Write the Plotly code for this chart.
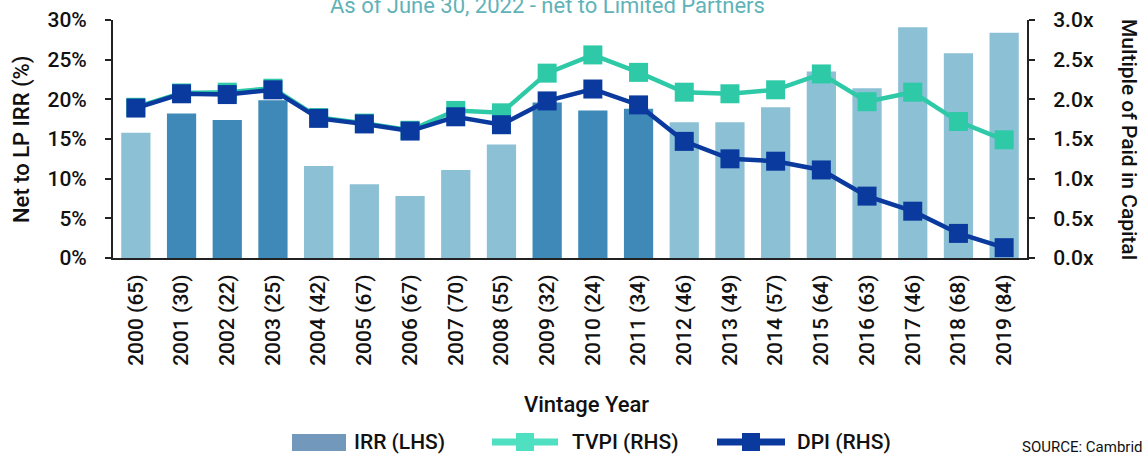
import plotly.graph_objects as go

categories = ["2000 (65)", "2001 (30)", "2002 (22)", "2003 (25)", "2004 (42)", "2005 (67)",
              "2006 (67)", "2007 (70)", "2008 (55)", "2009 (32)", "2010 (24)", "2011 (34)",
              "2012 (46)", "2013 (49)", "2014 (57)", "2015 (64)", "2016 (63)", "2017 (46)",
              "2018 (68)", "2019 (84)"]
irr = [15.8, 18.2, 17.4, 19.9, 11.6, 9.3, 7.8, 11.1, 14.3, 19.6, 18.6, 18.8,
       17.1, 17.1, 19.0, 23.5, 21.4, 29.1, 25.8, 28.4]
tvpi = [1.90, 2.08, 2.09, 2.14, 1.77, 1.70, 1.61, 1.86, 1.83, 2.33, 2.56, 2.34,
        2.09, 2.07, 2.12, 2.32, 1.97, 2.09, 1.72, 1.49]
dpi = [1.89, 2.07, 2.06, 2.12, 1.76, 1.69, 1.60, 1.78, 1.68, 1.98, 2.13, 1.93,
       1.47, 1.25, 1.22, 1.11, 0.78, 0.59, 0.31, 0.13]
highlight = [False, True, True, True, False, False, False, False, False, True, True, True,
             False, False, False, False, False, False, False, False]
left_ticks = [0, 5, 10, 15, 20, 25, 30]
left_ticktext = ["0%", "5%", "10%", "15%", "20%", "25%", "30%"]
right_ticks = [0, 0.5, 1.0, 1.5, 2.0, 2.5, 3.0]
right_ticktext = ["0.0x", "0.5x", "1.0x", "1.5x", "2.0x", "2.5x", "3.0x"]

DARK = "#3e89b8"
LIGHT = "#8cc0d5"
TEAL = "#2ec9a7"
NAVY = "#0b3a9f"
FONT = "Roboto"
WEIGHT = 500

W, H = 1143, 456
L, R, T, B = 113, 116, 20, 198
pw, ph = W - L - R, H - T - B

def px(x):
    return (x - L) / pw

def py(y):
    return (H - B - y) / ph

bar_colors = [DARK if h else LIGHT for h in highlight]

fig = go.Figure()
fig.add_trace(go.Bar(x=categories, y=irr, marker=dict(color=bar_colors, line=dict(width=0)),
                     name="IRR (LHS)", showlegend=False, yaxis="y"))
fig.add_trace(go.Scatter(x=categories, y=tvpi, mode="lines+markers", name="TVPI (RHS)",
                         line=dict(color=TEAL, width=4.5),
                         marker=dict(symbol="square", size=19, color=TEAL),
                         showlegend=False, yaxis="y2"))
fig.add_trace(go.Scatter(x=categories, y=dpi, mode="lines+markers", name="DPI (RHS)",
                         line=dict(color=NAVY, width=4.5),
                         marker=dict(symbol="square", size=19, color=NAVY),
                         showlegend=False, yaxis="y2"))

tickfont = dict(family=FONT, size=21, color="#111111", weight=WEIGHT)

fig.update_layout(
    width=W, height=H,
    margin=dict(l=L, r=R, t=T, b=B, autoexpand=False),
    paper_bgcolor="white", plot_bgcolor="white",
    bargap=0.36,
    showlegend=False,
    xaxis=dict(type="category", range=[-0.5, 19.5], tickangle=-90,
               tickfont=tickfont, showline=True, linecolor="#222222", linewidth=2,
               ticks="", showgrid=False, zeroline=False, ticklabelstandoff=6),
    yaxis=dict(range=[0, 30], tickvals=left_ticks, ticktext=left_ticktext,
               tickfont=tickfont, showline=True, linecolor="#222222", linewidth=2,
               ticks="outside", ticklen=6, tickwidth=2, tickcolor="#222222",
               showgrid=False, zeroline=False, ticklabelstandoff=14),
    yaxis2=dict(range=[0, 3.0], tickvals=right_ticks, ticktext=right_ticktext,
                overlaying="y", side="right",
                tickfont=tickfont, showline=True, linecolor="#222222", linewidth=2,
                ticks="outside", ticklen=6, tickwidth=2, tickcolor="#222222",
                showgrid=False, zeroline=False, ticklabelstandoff=14),
)

ann = []
# title (cut off at top)
ann.append(dict(text="As of June 30, 2022 - net to Limited Partners", x=px(547), y=py(6),
                xref="paper", yref="paper", xanchor="center", yanchor="middle",
                showarrow=False, font=dict(family=FONT, size=22, color="#5fb3b8")))
# axis titles
ann.append(dict(text="Net to LP IRR (%)", x=px(22), y=py(139), xref="paper", yref="paper",
                xanchor="center", yanchor="middle", textangle=-90, showarrow=False,
                font=dict(family=FONT, size=22, color="#111111", weight=WEIGHT)))
ann.append(dict(text="Multiple of Paid in Capital", x=px(1129), y=py(139), xref="paper", yref="paper",
                xanchor="center", yanchor="middle", textangle=90, showarrow=False,
                font=dict(family=FONT, size=21, color="#111111", weight=WEIGHT)))
ann.append(dict(text="Vintage Year", x=px(586), y=py(404), xref="paper", yref="paper",
                xanchor="center", yanchor="middle", showarrow=False,
                font=dict(family=FONT, size=22, color="#111111", weight=WEIGHT)))
# legend labels
for label, xl in [("IRR (LHS)", 352), ("TVPI (RHS)", 570), ("DPI (RHS)", 795)]:
    ann.append(dict(text=label, x=px(xl), y=py(442), xref="paper", yref="paper",
                    xanchor="left", yanchor="middle", showarrow=False,
                    font=dict(family=FONT, size=21, color="#111111", weight=WEIGHT)))
ann.append(dict(text="SOURCE: Cambridge Associates", x=px(1020), y=py(447), xref="paper", yref="paper",
                xanchor="left", yanchor="middle", showarrow=False,
                font=dict(family=FONT, size=15, color="#111111")))

shapes = []
shapes.append(dict(type="rect", xref="paper", yref="paper", x0=px(292), x1=px(346),
                   y0=py(451), y1=py(434), fillcolor="#7298bb", line=dict(width=0)))
for col, x0, x1 in [("#4fe0c2", 492, 558), (NAVY, 717, 785)]:
    shapes.append(dict(type="line", xref="paper", yref="paper", x0=px(x0), x1=px(x1),
                       y0=py(442), y1=py(442), line=dict(color=col, width=7)))
    cx = (x0 + x1) / 2
    shapes.append(dict(type="rect", xref="paper", yref="paper", x0=px(cx - 9), x1=px(cx + 9),
                       y0=py(451), y1=py(433), fillcolor=col, line=dict(width=0)))

fig.update_layout(annotations=ann, shapes=shapes)
fig.write_html("out.html", config={"displayModeBar": False},
               post_script="document.body.style.margin='0';document.body.style.overflow='hidden';")
